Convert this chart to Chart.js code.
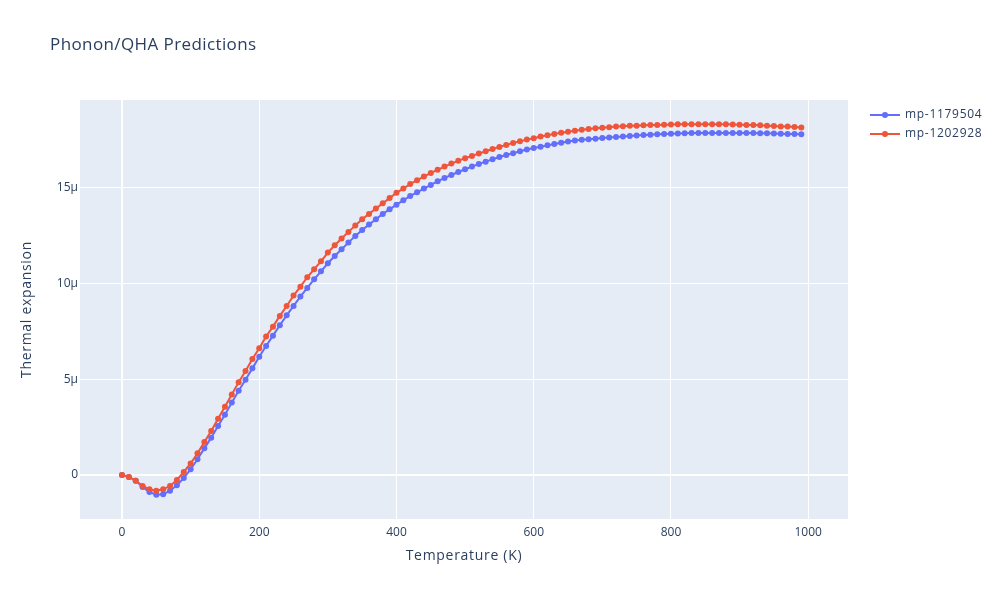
<!DOCTYPE html>
<html lang="en">
<head>
<meta charset="UTF-8" />
<title>Phonon/QHA Predictions</title>
<script src="https://cdn.jsdelivr.net/npm/chart.js"></script>
<style>
  html, body { margin: 0; padding: 0; background: #fff; }
  #wrap { width: 1000px; height: 600px; position: relative; }
</style>
</head>
<body>
<div id="wrap"><canvas id="qhaChart" width="1000" height="600"></canvas></div>
<script>
// temperature (K)
const temps = [0, 10, 20, 30, 40, 50, 60, 70, 80, 90,
  100, 110, 120, 130, 140, 150, 160, 170, 180, 190,
  200, 210, 220, 230, 240, 250, 260, 270, 280, 290,
  300, 310, 320, 330, 340, 350, 360, 370, 380, 390,
  400, 410, 420, 430, 440, 450, 460, 470, 480, 490,
  500, 510, 520, 530, 540, 550, 560, 570, 580, 590,
  600, 610, 620, 630, 640, 650, 660, 670, 680, 690,
  700, 710, 720, 730, 740, 750, 760, 770, 780, 790,
  800, 810, 820, 830, 840, 850, 860, 870, 880, 890,
  900, 910, 920, 930, 940, 950, 960, 970, 980, 990];

// thermal expansion, in units of 1e-6
const mp1179504 = [0, -0.1, -0.3, -0.63, -0.89, -1.03, -1.01, -0.82, -0.54, -0.16,
  0.3, 0.82, 1.39, 1.95, 2.56, 3.15, 3.78, 4.4, 4.98, 5.57,
  6.18, 6.74, 7.28, 7.82, 8.34, 8.83, 9.32, 9.77, 10.22, 10.64,
  11.06, 11.44, 11.79, 12.14, 12.49, 12.8, 13.08, 13.36, 13.64, 13.88,
  14.12, 14.35, 14.58, 14.77, 14.96, 15.15, 15.34, 15.52, 15.67, 15.83,
  15.97, 16.11, 16.25, 16.37, 16.49, 16.61, 16.72, 16.81, 16.91, 17.0,
  17.08, 17.15, 17.22, 17.29, 17.36, 17.42, 17.47, 17.51, 17.54, 17.57,
  17.6, 17.63, 17.66, 17.68, 17.71, 17.74, 17.76, 17.78, 17.8, 17.82,
  17.83, 17.84, 17.85, 17.86, 17.87, 17.87, 17.87, 17.87, 17.87, 17.87,
  17.87, 17.86, 17.86, 17.85, 17.85, 17.84, 17.83, 17.82, 17.81, 17.8];

const mp1202928 = [0, -0.1, -0.3, -0.57, -0.75, -0.82, -0.75, -0.57, -0.26, 0.16,
  0.6, 1.13, 1.72, 2.3, 2.94, 3.57, 4.2, 4.85, 5.43, 6.06,
  6.62, 7.23, 7.75, 8.31, 8.83, 9.37, 9.84, 10.33, 10.75, 11.16,
  11.62, 12.0, 12.35, 12.7, 13.03, 13.36, 13.64, 13.92, 14.19, 14.47,
  14.74, 14.96, 15.2, 15.4, 15.59, 15.78, 15.94, 16.11, 16.27, 16.41,
  16.55, 16.67, 16.79, 16.91, 17.03, 17.14, 17.24, 17.35, 17.43, 17.52,
  17.59, 17.68, 17.75, 17.82, 17.88, 17.93, 17.98, 18.03, 18.07, 18.11,
  18.14, 18.17, 18.2, 18.22, 18.24, 18.25, 18.27, 18.28, 18.29, 18.3,
  18.31, 18.32, 18.32, 18.32, 18.32, 18.32, 18.32, 18.32, 18.32, 18.31,
  18.3, 18.29, 18.28, 18.27, 18.25, 18.23, 18.21, 18.2, 18.18, 18.15];

const xTicks = [0, 200, 400, 600, 800, 1000];
const yTicks = [0, 5, 10, 15];

const FONT = '"Open Sans", verdana, arial, sans-serif';
const INK = '#2a3f5f';

function pts(ys) {
  return temps.map((t, i) => ({ x: t, y: ys[i] }));
}

// plot background, title, axis titles, legend
const decor = {
  id: 'decor',
  beforeDraw(chart) {
    const { ctx, chartArea: a } = chart;
    ctx.save();
    ctx.fillStyle = '#e5ecf6';
    ctx.fillRect(a.left, a.top, a.right - a.left, a.bottom - a.top);
    ctx.restore();
  },
  afterDraw(chart) {
    const { ctx, chartArea: a } = chart;
    ctx.save();
    ctx.fillStyle = INK;
    ctx.textBaseline = 'middle';
    ctx.letterSpacing = '0.4px';
    ctx.font = '17px ' + FONT;
    ctx.textAlign = 'left';
    ctx.fillText('Phonon/QHA Predictions', 50, 45);

    ctx.letterSpacing = '0.7px';
    ctx.font = '14px ' + FONT;
    ctx.textAlign = 'center';
    ctx.fillText('Temperature (K)', (a.left + a.right) / 2, 556);
    ctx.translate(27, (a.top + a.bottom) / 2);
    ctx.rotate(-Math.PI / 2);
    ctx.fillText('Thermal expansion', 0, 0);
    ctx.restore();

    const items = [['mp-1179504', '#636efa'], ['mp-1202928', '#ef553b']];
    ctx.save();
    ctx.font = '12px ' + FONT;
    ctx.letterSpacing = '0.7px';
    ctx.textBaseline = 'middle';
    items.forEach(([name, col], i) => {
      const y = 115 + i * 19;
      ctx.strokeStyle = col;
      ctx.lineWidth = 2;
      ctx.beginPath();
      ctx.moveTo(870, y);
      ctx.lineTo(900, y);
      ctx.stroke();
      ctx.fillStyle = col;
      ctx.beginPath();
      ctx.arc(885, y, 3, 0, Math.PI * 2);
      ctx.fill();
      ctx.fillStyle = INK;
      ctx.textAlign = 'left';
      ctx.fillText(name, 905, y);
    });
    ctx.restore();
  }
};

new Chart(document.getElementById('qhaChart'), {
  type: 'line',
  data: {
    datasets: [
      {
        label: 'mp-1179504',
        data: pts(mp1179504),
        borderColor: '#636efa',
        backgroundColor: '#636efa',
        borderWidth: 2,
        pointRadius: 3,
        pointBorderWidth: 0,
        tension: 0,
        order: 2
      },
      {
        label: 'mp-1202928',
        data: pts(mp1202928),
        borderColor: '#ef553b',
        backgroundColor: '#ef553b',
        borderWidth: 2,
        pointRadius: 3,
        pointBorderWidth: 0,
        tension: 0,
        order: 1
      }
    ]
  },
  options: {
    responsive: false,
    animation: false,
    layout: { padding: { left: 0, right: 152, top: 100, bottom: 0 } },
    plugins: { legend: { display: false }, tooltip: { enabled: false } },
    scales: {
      x: {
        type: 'linear',
        min: -61.2,
        max: 1058,
        afterBuildTicks(s) { s.ticks = xTicks.map(v => ({ value: v })); },
        afterFit(s) { s.height = 81; },
        grid: {
          color: '#ffffff',
          lineWidth: c => c.tick && c.tick.value === 0 ? 2 : 1,
          drawTicks: false
        },
        border: { display: false },
        ticks: {
          color: INK,
          font: { family: FONT, size: 12 },
          padding: 6,
          maxRotation: 0,
          callback: v => String(v)
        }
      },
      y: {
        min: -2.3,
        max: 19.59,
        afterBuildTicks(s) { s.ticks = yTicks.map(v => ({ value: v })); },
        afterFit(s) { s.width = 80; },
        grid: {
          color: '#ffffff',
          lineWidth: c => c.tick && c.tick.value === 0 ? 2 : 1,
          drawTicks: false
        },
        border: { display: false },
        ticks: {
          color: INK,
          font: { family: FONT, size: 12 },
          padding: 2,
          callback: v => v === 0 ? '0' : v + 'µ'
        }
      }
    }
  },
  plugins: [decor]
});
</script>
</body>
</html>
